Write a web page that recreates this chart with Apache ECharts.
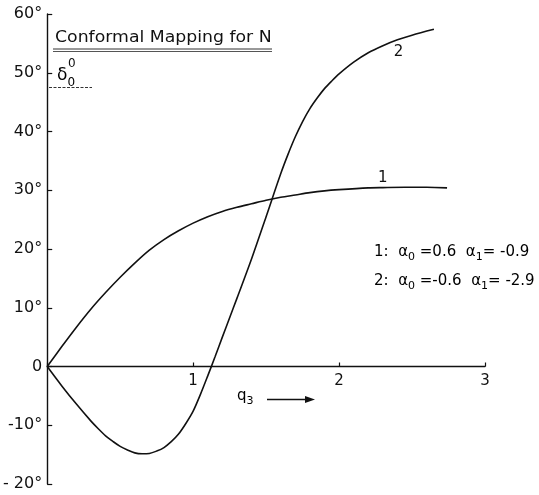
<!DOCTYPE html>
<html>
<head>
<meta charset="utf-8">
<script src="https://cdn.jsdelivr.net/npm/echarts@6/dist/echarts.min.js"></script>
<style>
  html, body { margin: 0; padding: 0; background: #fff; }
  #chart { width: 539px; height: 495px; }
</style>
</head>
<body>
<div id="chart"></div>
<script>
// δ0 (degrees) against q3 for two sets of mapping coefficients
var curve1Q = [0, 0.1, 0.2, 0.3, 0.4, 0.5, 0.6, 0.7, 0.8, 0.9, 1.0, 1.1, 1.2, 1.3, 1.4, 1.5, 1.6, 1.7, 1.8, 1.9, 2.0, 2.2, 2.3, 2.45, 2.6, 2.74];
var curve1D = [0, 3.4, 6.7, 9.8, 12.6, 15.2, 17.6, 19.8, 21.6, 23.1, 24.4, 25.5, 26.4, 27.1, 27.7, 28.3, 28.8, 29.2, 29.6, 29.9, 30.1, 30.4, 30.45, 30.5, 30.5, 30.4];

var curve2Q = [0, 0.1, 0.2, 0.3, 0.35, 0.4, 0.45, 0.5, 0.55, 0.6, 0.65, 0.7, 0.75, 0.8, 0.85, 0.9, 0.95, 1.0, 1.05, 1.1, 1.15, 1.2, 1.25, 1.3, 1.4, 1.5, 1.6, 1.65, 1.7, 1.75, 1.8, 1.85, 1.9, 1.95, 2.0, 2.1, 2.2, 2.3, 2.4, 2.5, 2.65];
var curve2D = [0, -3.3, -6.4, -9.3, -10.6, -11.8, -12.75, -13.6, -14.2, -14.7, -14.85, -14.8, -14.4, -13.8, -12.8, -11.5, -9.7, -7.6, -4.75, -1.6, 1.65, 5.0, 8.3, 11.6, 18.3, 25.5, 32.8, 36.1, 39.1, 41.7, 43.9, 45.7, 47.3, 48.6, 49.8, 51.8, 53.4, 54.6, 55.6, 56.4, 57.4];

// curve numbers are written next to these abscissae
var curve1TagQ = 2.3;
var curve2TagQ = 2.4;

var xTicks = [0, 1, 2, 3];
var xTickLabels = ['', '1', '2', '3'];
var yTicks = [-20, -10, 0, 10, 20, 30, 40, 50, 60];
var yTickLabels = ['- 20°', '-10°', '0', '10°', '20°', '30°', '40°', '50°', '60°'];

var legendRows = [
  { n: '1', a0: '0.6', a1: '-0.9' },
  { n: '2', a0: '-0.6', a1: '-2.9' }
];

function pairs(xs, ys) {
  return xs.map(function (x, i) { return [x, ys[i]]; });
}

function tagPoint(xs, ys, q) {
  var i = xs.indexOf(q);
  return [xs[i], ys[i]];
}

var FONT = 'DejaVu Sans';
var INK = '#111';

var W = 539, H = 495;
var GRID = { left: 43, right: 54, top: 14, bottom: 11 };
var yMin = yTicks[0], yMax = yTicks[yTicks.length - 1];
// lift the abscissa so it runs along δ0 = 0
var plotH = H - GRID.top - GRID.bottom;
var xAxisLift = -plotH * (0 - yMin) / (yMax - yMin);

var chart = echarts.init(document.getElementById('chart'), null, { renderer: 'canvas' });

var option = {
  animation: false,
  backgroundColor: '#fff',
  grid: { left: GRID.left, right: GRID.right, top: GRID.top, bottom: GRID.bottom, containLabel: false },
  xAxis: {
    type: 'value',
    min: xTicks[0], max: xTicks[xTicks.length - 1], interval: 1,
    offset: xAxisLift,
    axisLine: { show: true, onZero: false, lineStyle: { color: INK, width: 1.4 } },
    axisTick: { show: true, inside: true, length: 4, lineStyle: { color: INK, width: 1.2 } },
    axisLabel: {
      color: INK, fontFamily: FONT, fontSize: 15, margin: 7,
      formatter: function (v) { return xTickLabels[xTicks.indexOf(v)] || ''; }
    },
    splitLine: { show: false }
  },
  yAxis: {
    type: 'value',
    min: yMin, max: yMax, interval: 10,
    axisLine: { show: true, lineStyle: { color: INK, width: 1.4 } },
    axisTick: { show: true, inside: true, length: 5, lineStyle: { color: INK, width: 1.2 } },
    axisLabel: {
      color: INK, fontFamily: FONT, fontSize: 16, margin: 5,
      formatter: function (v) { return yTickLabels[yTicks.indexOf(v)]; }
    },
    splitLine: { show: false }
  },
  series: [
    {
      name: '1', type: 'line', smooth: 0.3, showSymbol: false,
      data: pairs(curve1Q, curve1D),
      lineStyle: { color: INK, width: 1.6 },
      markPoint: {
        symbol: 'circle', symbolSize: 0,
        itemStyle: { color: 'rgba(0,0,0,0)' },
        label: { show: true, position: 'inside', offset: [0, -9], color: INK, fontFamily: FONT, fontSize: 15, formatter: '1' },
        data: [{ coord: tagPoint(curve1Q, curve1D, curve1TagQ) }]
      }
    },
    {
      name: '2', type: 'line', smooth: 0.3, showSymbol: false,
      data: pairs(curve2Q, curve2D),
      lineStyle: { color: INK, width: 1.6 },
      markPoint: {
        symbol: 'circle', symbolSize: 0,
        itemStyle: { color: 'rgba(0,0,0,0)' },
        label: { show: true, position: 'inside', offset: [1, 12], color: INK, fontFamily: FONT, fontSize: 15, formatter: '2' },
        data: [{ coord: tagPoint(curve2Q, curve2D, curve2TagQ) }]
      }
    }
  ]
};
chart.setOption(option);

// annotation text: title, ordinate symbol, parameter key, abscissa label with arrow
var subStyle = { fontFamily: FONT, fontSize: 11, color: INK, verticalAlign: 'bottom', lineHeight: 22 };
var mainStyle = { fontFamily: FONT, fontSize: 15, color: INK, verticalAlign: 'middle', lineHeight: 22 };

var graphics = [
  {
    type: 'text', x: 55, y: 30, scaleX: 1.08,
    style: { text: 'Conformal Mapping for N', fontFamily: FONT, fontSize: 16, fill: INK }
  },
  { type: 'line', shape: { x1: 53, y1: 49, x2: 272, y2: 49 }, style: { stroke: '#333', lineWidth: 1 } },
  { type: 'line', shape: { x1: 53, y1: 51.5, x2: 272, y2: 51.5 }, style: { stroke: '#555', lineWidth: 1 } },
  {
    type: 'text', x: 57, y: 63,
    style: {
      text: '{d|δ}{s|0}',
      rich: {
        d: { fontFamily: FONT, fontSize: 17, color: INK, verticalAlign: 'middle', lineHeight: 26 },
        s: { fontFamily: FONT, fontSize: 12, color: INK, verticalAlign: 'bottom', lineHeight: 26 }
      }
    }
  },
  {
    type: 'text', x: 68, y: 58,
    style: { text: '0', fontFamily: FONT, fontSize: 12, fill: INK }
  },
  { type: 'line', shape: { x1: 49, y1: 87.5, x2: 92, y2: 87.5 }, style: { stroke: '#333', lineWidth: 1.2, lineDash: [3, 1.5] } },
  {
    type: 'text', x: 237, y: 385,
    style: {
      text: '{m|q}{s|3}',
      rich: { m: mainStyle, s: subStyle }
    }
  },
  { type: 'line', shape: { x1: 267, y1: 399.5, x2: 307, y2: 399.5 }, style: { stroke: INK, lineWidth: 1.3 } },
  { type: 'polygon', shape: { points: [[315, 399.5], [305, 396], [305, 403]] }, style: { fill: INK } }
];

legendRows.forEach(function (r, i) {
  graphics.push({
    type: 'text', x: 374, y: 241 + i * 29,
    style: {
      text: '{m|' + r.n + ':  α}{s|0}{m| =' + r.a0 + '  α}{s|1}{m|= ' + r.a1 + '}',
      rich: { m: mainStyle, s: subStyle }
    }
  });
});

chart.setOption({ graphic: graphics });
</script>
</body>
</html>
